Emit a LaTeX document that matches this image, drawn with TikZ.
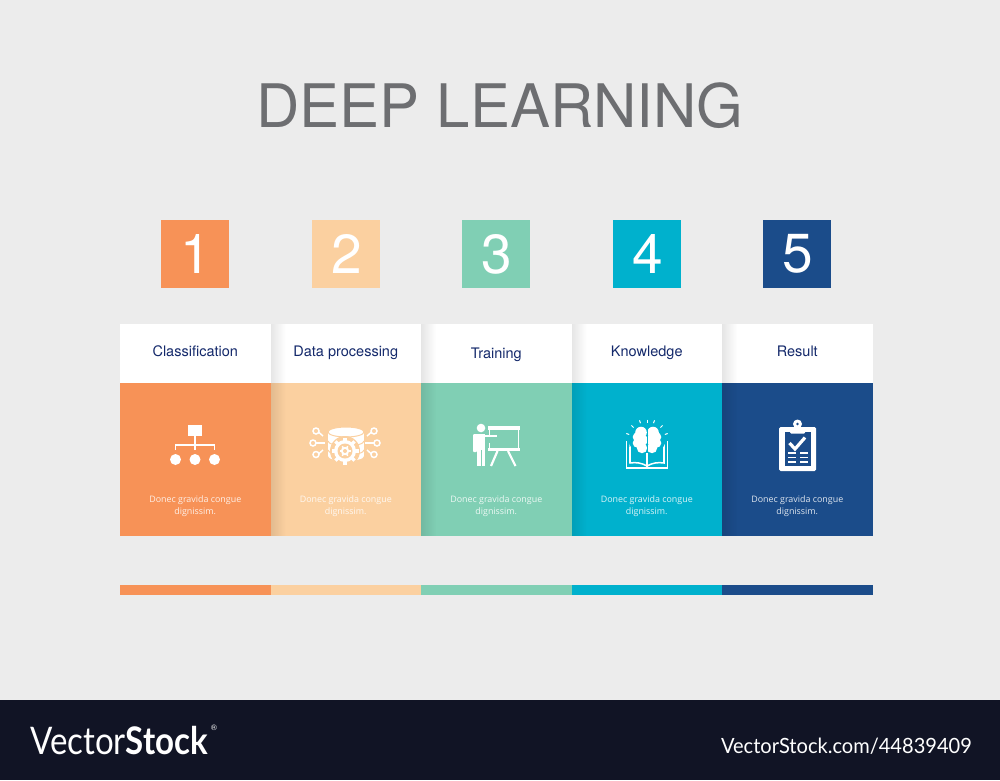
\documentclass[tikz,border=0pt]{standalone}
\usepackage{fontspec}
\setmainfont{TeX Gyre Heros}
\newfontfamily\bodyfont{Open Sans}
\newfontfamily\logofont{Lato}
\usetikzlibrary{calc, fadings}
\definecolor{bgA}{HTML}{ECECEC}
\definecolor{footA}{HTML}{111425}
\definecolor{titleA}{HTML}{6D6E71}
\definecolor{headA}{HTML}{14296B}
\definecolor{colA}{HTML}{F79257}
\definecolor{colB}{HTML}{FBD0A0}
\definecolor{colC}{HTML}{80CFB4}
\definecolor{colD}{HTML}{00B1CD}
\definecolor{colE}{HTML}{1B4C8A}
\tikzset{
    numbox/.style={fill=#1, minimum size=68pt, inner sep=0pt, text=white, font=\fontsize{55}{55}\selectfont},
    headtxt/.style={text=headA, anchor=base, font=\fontsize{14.5}{16}\selectfont, inner sep=0pt},
    bodytxt/.style={text=white, text opacity=.85, align=center, inner sep=0pt, font=\bodyfont\fontsize{8.9}{12}\selectfont},
    wline/.style={draw=white, line width=1.6pt},
    wfill/.style={fill=white, draw=none}
}
\begin{document}
\begin{tikzpicture}[x=1pt, y=-1pt]
\useasboundingbox (0,0) rectangle (1000,780);
\fill[bgA] (0,0) rectangle (1000,780);
\fill[footA] (0,700) rectangle (1000,780);

\node[text=titleA, font=\fontsize{60}{60}\selectfont, inner sep=0pt] (title) at (500,106) {DEEP LEARNING};

\foreach \i/\n/\c/\t/\yy in {0/1/colA/Classification/356.5,1/2/colB/Data processing/356.5,2/3/colC/Training/358,3/4/colD/Knowledge/356.5,4/5/colE/Result/356.5}
{
    \coordinate (L\i) at (120+\i*150.5,0);
    \coordinate (M\i) at (195.25+\i*150.5,0);
    \fill[white] (L\i |- 0,324) rectangle ($(L\i |- 0,383)+(150.5,0)$);
    \fill[\c] (L\i |- 0,383) rectangle ($(L\i |- 0,536)+(150.5,0)$);
    \fill[\c] (L\i |- 0,585) rectangle ($(L\i |- 0,595)+(150.5,0)$);
    \fill[\c] ($(M\i |- 0,254)+(-34,-34)$) rectangle ($(M\i |- 0,254)+(34,34)$);
    \node[text=white, inner sep=0pt, font=\fontsize{55}{55}\selectfont] (num\n) at ($(M\i |- 0,254)+(1,0)$) {\n};
    \node[headtxt] (head\n) at (M\i |- 0,\yy) {\t};
    \node[bodytxt] (txt\n) at (M\i |- 0,506) {Donec gravida congue\\dignissim.};
}
\foreach \i in {1,2,3,4}
    \fill[black, opacity=.1, path fading=east] (L\i |- 0,324) rectangle ($(L\i |- 0,536)+(15,0)$);

\fill[wfill] (188,425) rectangle (202,436);
\draw[wline] (195,436)--(195,450) (175.5,450)--(175.5,445)--(214.5,445)--(214.5,450);
\foreach \x in {175.5,195,214.5}
    \fill[wfill] (\x,459.5) circle(5.5pt);

\fill[wfill] (328,432) rectangle (364,456);
\fill[wfill] (346,456) ellipse(18pt and 5pt);
\draw[colB, line width=1pt] (328,441) arc[start angle=180, end angle=360, x radius=18pt, y radius=5pt];
\draw[colB, line width=1pt] (328,450) arc[start angle=180, end angle=360, x radius=18pt, y radius=5pt];
\draw[colB, line width=1pt, fill=white] (346,432) ellipse(18pt and 5pt);
\fill[colB] (345,451) circle(15pt);
\foreach \a in {0,45,...,315}
    \draw[white, line width=3.5pt] (345,451)--++(\a:13.5pt);
\fill[wfill] (345,451) circle(11pt);
\fill[colB] (345,451) circle(7.5pt);
\foreach \a in {0,60,...,300}
    \draw[white, line width=1.5pt] (345,451)--++(\a:5.5pt);
\fill[wfill] (345,451) circle(4.2pt);
\fill[colB] (345,451) circle(2pt);
\foreach \s in {-1,1}
{
    \draw[white, line width=1.5pt] (345+\s*20,443)--(345+\s*29,443);
    \draw[white, line width=1.5pt] (345+\s*22,436)--(345+\s*26,432.5);
    \draw[white, line width=1.5pt] (345+\s*22,450)--(345+\s*26,453.5);
    \draw[white, line width=1.5pt] (345+\s*32,443) circle(3pt);
    \draw[white, line width=1.5pt] (345+\s*29,431) circle(3pt);
    \draw[white, line width=1.5pt] (345+\s*29,454.5) circle(3pt);
}

\fill[wfill] (481,428) circle(4.3pt);
\fill[wfill, rounded corners=1pt] (473,434) rectangle (477,452);
\fill[wfill] (476,434) rectangle (485,450);
\fill[wfill] (477,450) rectangle (480.5,466);
\fill[wfill] (481.5,450) rectangle (485,466);
\fill[wfill] (485,434.5) rectangle (497,437);
\fill[wfill] (488,426) rectangle (519.5,430);
\fill[wfill] (487.5,448) rectangle (519.5,451);
\draw[white, line width=1pt] (489.5,430)--(489.5,437) (489.5,443)--(489.5,448) (518,430)--(518,448);
\draw[white, line width=2.2pt] (497.5,451)--(491,466) (508,451)--(515.5,466);

\foreach \s in {-1,1}
{
    \draw[white, line width=1.5pt] (647+\s*17,438)--(647+\s*17,463) .. controls (647+\s*11,462) and (647+\s*5,463) .. (647,466);
    \draw[white, line width=1.5pt] (647+\s*20.5,441)--(647+\s*20.5,468)--(647,468);
    \fill[colD] (647+\s*7,440) circle(11.5pt);
    \draw[white, line width=1.5pt] (647+\s*17,447)--(647+\s*17,463);
}
\foreach \s in {-1,1}
{
    \fill[wfill] (647+\s*6,432.5) circle(5.8pt);
    \fill[wfill] (647+\s*9.5,437) circle(4.8pt);
    \fill[wfill] (647+\s*9.5,443) circle(4.8pt);
    \fill[wfill] (647+\s*5,448) circle(5.2pt);
    \fill[wfill] (647+\s*4,440) circle(5pt);
    \foreach \a in {20,45,70}
        \draw[white, line width=1pt] ($(647,441)+(90-\s*\a:19pt)$)--($(647,441)+(90-\s*\a:22pt)$);
}
\draw[colD, line width=.5pt] (647,428)--(647,452);
\draw[white, line width=1pt] (647,419.5)--(647,422.5);
\draw[white, line width=1.5pt] (647,453)--(647,468);

\fill[wfill, rounded corners=1.5pt] (779,427) rectangle (816,471);
\fill[colE] (784.5,432) rectangle (810.5,466);
\fill[wfill] (797.5,424) circle(4.5pt);
\fill[wfill, rounded corners=1pt] (790,427) rectangle (805,433.5);
\fill[colE] (797.5,424) circle(1.3pt);
\draw[white, line width=3.2pt] (789.5,443)--(795,449)--(805,437.5);
\foreach \y in {453,457.5,462}
    \draw[white, line width=1.8pt] (788,\y)--(796,\y) (800,\y)--(807.5,\y);

\node[text=white, anchor=west, inner sep=0pt, xscale=.87, font=\logofont\fontsize{38}{38}\selectfont] (logo) at (30,741) {Vector\textbf{Stock}};
\node[text=white, anchor=west, inner sep=0pt, font=\fontsize{8}{8}\selectfont] (reg) at (211,728) {\textregistered};
\node[text=white, anchor=east, inner sep=0pt, xscale=.955, font=\logofont\fontsize{21}{21}\selectfont] (ref) at (972,746) {VectorStock.com/44839409};
\end{tikzpicture}
\end{document}
